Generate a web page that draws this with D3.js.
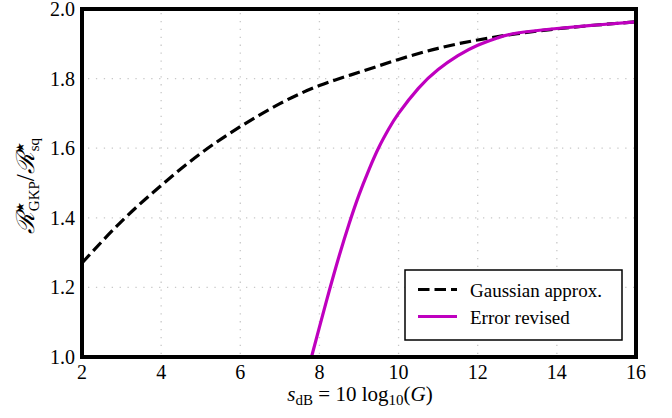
<!DOCTYPE html>
<html>
<head>
<meta charset="utf-8">
<script src="https://cdn.jsdelivr.net/npm/d3@7"></script>
<style>
  body { margin: 0; background: #fff; }
  text { font-family: "Liberation Serif", "DejaVu Serif", serif; fill: #000; }
</style>
</head>
<body>
<svg id="chart" width="672" height="418"></svg>
<script>
// values
var gaussX = [2, 3, 4, 5, 6, 7, 8, 9, 10, 11, 12, 13, 14, 15, 16];
var gaussY = [1.27, 1.39, 1.493, 1.585, 1.662, 1.728, 1.78, 1.818, 1.855, 1.887, 1.911, 1.929, 1.943, 1.954, 1.963];

var revisedX = [7.8, 8, 8.25, 8.5, 8.75, 9, 9.25, 9.5, 9.75, 10, 10.5, 11, 11.5, 12, 12.5, 13, 14, 15, 16];
var revisedY = [1.0, 1.086, 1.191, 1.291, 1.383, 1.466, 1.538, 1.602, 1.655, 1.700, 1.772, 1.826, 1.866, 1.896, 1.917, 1.931, 1.944, 1.954, 1.963];

var xTicks = [2, 4, 6, 8, 10, 12, 14, 16];
var yTicks = [1.0, 1.2, 1.4, 1.6, 1.8, 2.0];

var legendLabels = ['Gaussian approx.', 'Error revised'];

(function() {
  var mLeft = 82, mRight = 636, mTop = 9, mBottom = 357;

  var svg = d3.select('#chart');

  var x = d3.scaleLinear().domain([2, 16]).range([mLeft, mRight]);
  var y = d3.scaleLinear().domain([1, 2]).range([mBottom, mTop]);

  svg.append('defs').append('clipPath')
    .attr('id', 'plotclip')
    .append('rect')
    .attr('x', mLeft).attr('y', mTop)
    .attr('width', mRight - mLeft).attr('height', mBottom - mTop);

  // grid
  var grid = svg.append('g')
    .attr('stroke', '#c8c8c8')
    .attr('stroke-width', 1.3)
    .attr('stroke-dasharray', '1.3,6.6');
  grid.selectAll('.gx')
    .data(xTicks.slice(1, -1))
    .enter().append('line')
    .attr('x1', function(d) { return x(d); })
    .attr('x2', function(d) { return x(d); })
    .attr('y1', mTop + 4).attr('y2', mBottom - 2);
  grid.selectAll('.gy')
    .data(yTicks.slice(1, -1))
    .enter().append('line')
    .attr('y1', function(d) { return y(d); })
    .attr('y2', function(d) { return y(d); })
    .attr('x1', mLeft + 6).attr('x2', mRight - 2);

  var line = d3.line()
    .x(function(d) { return x(d[0]); })
    .y(function(d) { return y(d[1]); })
    .curve(d3.curveNatural);

  var plot = svg.append('g').attr('clip-path', 'url(#plotclip)');

  plot.append('path')
    .datum(d3.zip(gaussX, gaussY))
    .attr('fill', 'none')
    .attr('stroke', '#000')
    .attr('stroke-width', 3.2)
    .attr('stroke-dasharray', '11.5,5')
    .attr('d', line);

  plot.append('path')
    .datum(d3.zip(revisedX, revisedY))
    .attr('fill', 'none')
    .attr('stroke', '#bf00bf')
    .attr('stroke-width', 3.2)
    .attr('d', line);

  // frame
  svg.append('rect')
    .attr('x', mLeft).attr('y', mTop)
    .attr('width', mRight - mLeft).attr('height', mBottom - mTop)
    .attr('fill', 'none')
    .attr('stroke', '#000')
    .attr('stroke-width', 4);

  // tick labels
  svg.append('g').selectAll('text')
    .data(xTicks)
    .enter().append('text')
    .attr('x', function(d) { return x(d); })
    .attr('y', 379)
    .attr('text-anchor', 'middle')
    .style('font-size', '20px')
    .text(function(d) { return d; });

  svg.append('g').selectAll('text')
    .data(yTicks)
    .enter().append('text')
    .attr('x', 75)
    .attr('y', function(d) { return y(d) + 7; })
    .attr('text-anchor', 'end')
    .style('font-size', '20px')
    .text(function(d) { return d3.format('.1f')(d); });

  // axis titles
  var xt = svg.append('text')
    .attr('x', 360).attr('y', 401)
    .attr('text-anchor', 'middle')
    .style('font-size', '21px');
  xt.append('tspan').style('font-style', 'italic').text('s');
  xt.append('tspan').attr('dy', 4).style('font-size', '15px').text('dB');
  xt.append('tspan').attr('dy', -4).text(' = 10 log');
  xt.append('tspan').attr('dy', 4).style('font-size', '15px').text('10');
  xt.append('tspan').attr('dy', -4).text('(');
  xt.append('tspan').style('font-style', 'italic').text('G');
  xt.append('tspan').text(')');

  var yt = svg.append('text')
    .attr('transform', 'translate(34,186) rotate(-90)')
    .attr('text-anchor', 'middle')
    .style('font-size', '25px');
  yt.append('tspan').style('font-family', 'DejaVu Serif').style('font-style', 'italic').text('\u211B');
  yt.append('tspan').attr('dy', -10).style('font-size', '11px').style('font-family', 'DejaVu Sans').text('\u2605');
  yt.append('tspan').attr('dx', -9).attr('dy', 15).style('font-size', '15px').text('GKP');
  yt.append('tspan').attr('dy', -5).text('/');
  yt.append('tspan').style('font-family', 'DejaVu Serif').style('font-style', 'italic').text('\u211B');
  yt.append('tspan').attr('dy', -10).style('font-size', '11px').style('font-family', 'DejaVu Sans').text('\u2605');
  yt.append('tspan').attr('dx', -9).attr('dy', 15).style('font-size', '15px').text('sq');

  // legend
  var legend = svg.append('g');
  legend.append('rect')
    .attr('x', 405).attr('y', 270)
    .attr('width', 217).attr('height', 70)
    .attr('fill', '#fff')
    .attr('stroke', '#000')
    .attr('stroke-width', 1.5);

  var legendStyles = [
    { color: '#000', dash: '11.5,5' },
    { color: '#bf00bf', dash: null }
  ];
  legendLabels.forEach(function(label, i) {
    var ly = 289.5 + i * 27;
    legend.append('line')
      .attr('x1', 418).attr('x2', 457)
      .attr('y1', ly).attr('y2', ly)
      .attr('stroke', legendStyles[i].color)
      .attr('stroke-width', 3.2)
      .attr('stroke-dasharray', legendStyles[i].dash);
    legend.append('text')
      .attr('x', 470).attr('y', ly + 7.5)
      .style('font-size', '19px')
      .text(label);
  });
})();
</script>
</body>
</html>
